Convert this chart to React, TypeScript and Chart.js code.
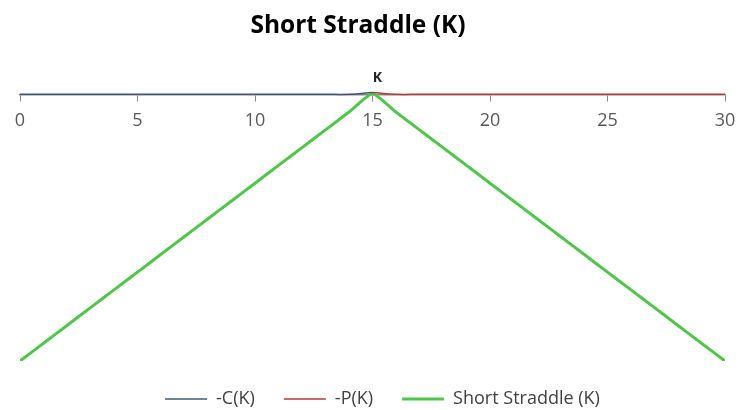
import React, { useEffect, useRef } from "react";
import { Chart, registerables } from "chart.js";

Chart.register(...registerables);

const xValues = [0, 1, 2, 3, 4, 5, 6, 7, 8, 9, 10, 11, 12, 13, 14, 15, 16, 17, 18, 19, 20, 21, 22, 23, 24, 25, 26, 27, 28, 29, 30];
const callValues = [0, 0, 0, 0, 0, 0, 0, 0, 0, 0, 0, 0, 0, 0, 0, 0.1];
const putValues = [0.1, 0, 0, 0, 0, 0, 0, 0, 0, 0, 0, 0, 0, 0, 0, 0];
const straddleValues = [-15, -14, -13, -12, -11, -10, -9, -8, -7, -6, -5, -4, -3, -2, -1, 0.05, -1, -2, -3, -4, -5, -6, -7, -8, -9, -10, -11, -12, -13, -14, -15];
const xTicks = [0, 5, 10, 15, 20, 25, 30];
const peakLabel = "K";
const chartTitle = "Short Straddle (K)";

const FONT = "'Open Sans', sans-serif";
const LEGEND_HEIGHT = 49;
const LEGEND_SHIFT = 10;

export default function App() {
  const ref = useRef<HTMLCanvasElement | null>(null);
  useEffect(() => {
    document.body.style.margin = "0";
    const ctx = ref.current!;
    const labelPlugin = {
      id: "peakLabel",
      afterDatasetsDraw(chart: any) {
        const meta = chart.getDatasetMeta(2);
        const idx = straddleValues.indexOf(Math.max(...straddleValues));
        const pt = meta.data[idx];
        const c = chart.ctx;
        c.save();
        if (pt) {
          c.font = `bold 14px ${FONT}`;
          c.fillStyle = "#262626";
          c.textAlign = "center";
          c.textBaseline = "bottom";
          c.fillText(peakLabel, pt.x + 5, pt.y - 8);
        }
        c.font = `bold 24.5px ${FONT}`;
        c.fillStyle = "#000";
        c.textAlign = "center";
        c.textBaseline = "alphabetic";
        c.fillText(chartTitle, 358, 33);
        c.restore();
      },
    };
    const legendFitPlugin = {
      id: "legendFit",
      beforeLayout(chart: any) {
        const lg = chart.legend;
        if (lg && !lg._patchedFit) {
          const orig = lg.fit.bind(lg);
          lg.fit = function () {
            orig();
            this.height = LEGEND_HEIGHT;
          };
          lg._patchedFit = true;
        }
      },
      afterLayout(chart: any) {
        const lg = chart.legend;
        if (lg) {
          lg.left += LEGEND_SHIFT;
          lg.right += LEGEND_SHIFT;
        }
      },
    };
    const chart = new Chart(ctx, {
      type: "line",
      data: {
        datasets: [
          {
            label: "-C(K)",
            data: callValues.map((v, i) => ({ x: xValues[i], y: v })),
            borderColor: "#3e5679",
            backgroundColor: "#3e5679",
            borderWidth: 1.5,
            pointRadius: 0,
            tension: 0.4,
          },
          {
            label: "-P(K)",
            data: putValues.map((v, i) => ({ x: xValues[i + 15], y: v })),
            borderColor: "#b03a3a",
            backgroundColor: "#b03a3a",
            borderWidth: 1.5,
            pointRadius: 0,
            tension: 0.4,
          },
          {
            label: "Short Straddle (K)",
            data: straddleValues.map((v, i) => ({ x: xValues[i], y: v })),
            borderColor: "#4fc64a",
            backgroundColor: "#4fc64a",
            borderWidth: 3,
            pointRadius: 0,
            tension: 0.15,
          },
        ],
      },
      options: {
        animation: false,
        responsive: false,
        maintainAspectRatio: false,
        layout: { padding: { left: 20, right: 15, top: 76.5, bottom: 0 } },
        plugins: {
          title: { display: false },
          legend: {
            position: "bottom",
            labels: {
              usePointStyle: true,
              pointStyle: "line",
              pointStyleWidth: 42,
              color: "#404040",
              font: { family: FONT, size: 18 },
              padding: 29,
            },
          },
          tooltip: { enabled: false },
        },
        scales: {
          x: {
            type: "linear",
            min: 0,
            max: 30,
            position: { y: 0 },
            afterBuildTicks: (axis: any) => {
              axis.ticks = xTicks.map((v) => ({ value: v }));
            },
            afterFit: (axis: any) => {
              axis.paddingLeft = 0;
              axis.paddingRight = 0;
            },
            ticks: {
              color: "#595959",
              font: { family: FONT, size: 18 },
              padding: 10,
              maxRotation: 0,
            },
            grid: {
              drawOnChartArea: false,
              drawTicks: true,
              tickLength: 6,
              color: "#868686",
            },
            border: { color: "#868686", width: 1.5 },
          },
          y: {
            display: false,
            min: -15,
            max: 1,
          },
        },
      },
      plugins: [labelPlugin, legendFitPlugin],
    });
    return () => chart.destroy();
  }, []);
  return (
    <div style={{ width: 740, height: 410, background: "#fff" }}>
      <canvas ref={ref} width={740} height={410} />
    </div>
  );
}
